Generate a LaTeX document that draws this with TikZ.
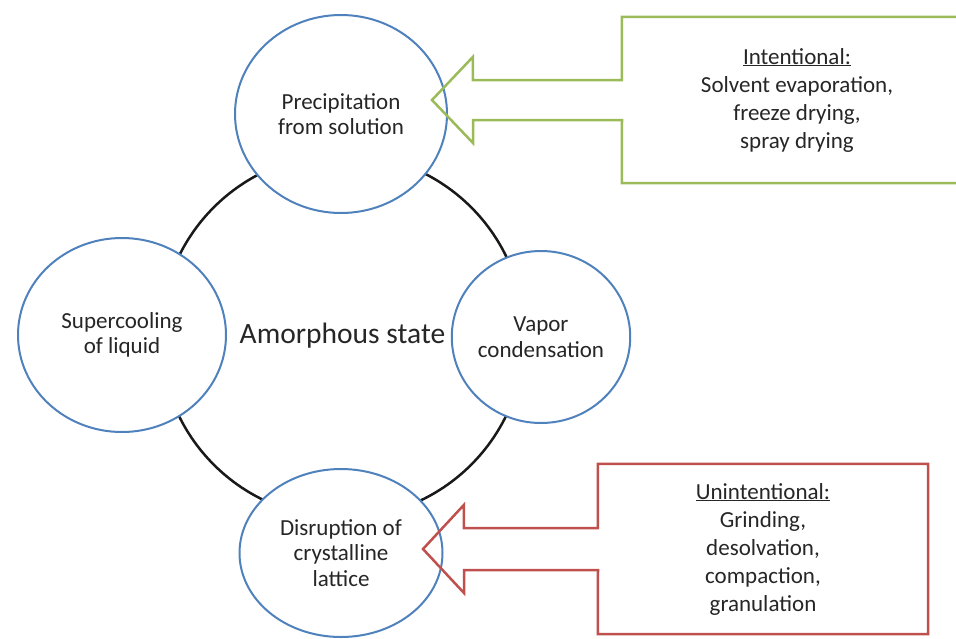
\documentclass[tikz,border=0pt]{standalone}
\usepackage{fontspec}
\setmainfont{Carlito}
\usetikzlibrary{shapes,arrows,positioning,calc}
\definecolor{routeblue}{HTML}{4F81BD}
\definecolor{intentgreen}{HTML}{9BBB59}
\definecolor{unintred}{HTML}{C0504D}

\begin{document}
\begin{tikzpicture}[
    x=1pt, y=-1pt,
    state/.style={circle, draw=black!90, line width=2.5pt, minimum size=364pt, inner sep=0pt, text=black!85, font=\fontsize{29.5}{32}\selectfont},
    route/.style={ellipse, draw=routeblue, line width=2pt, fill=white, inner sep=0pt, align=center, text=black!85, font=\fontsize{23}{25.5}\selectfont},
    callbox/.style={rectangle, inner sep=0pt, align=center, text=black!85, font=\fontsize{23}{28}\selectfont},
    intentline/.style={draw=intentgreen, line width=2.5pt},
    unintline/.style={draw=unintred, line width=2.5pt}]

    \useasboundingbox (0,0) rectangle (956,638);

    % Central state
    \node [state] (amorph) at (342.5,336) {Amorphous state};

    % Routes around the centre
    \node [route, minimum width=212pt, minimum height=198pt] (precip) at (341,114) {Precipitation\\from solution};
    \node [route, minimum width=208pt, minimum height=194pt] (supercool) at (122,335) {Supercooling\\of liquid};
    \node [route, minimum width=168pt, minimum height=172pt] (vapor) at (541,337) {Vapor\\condensation};
    \node [route, minimum width=203pt, minimum height=168pt] (disrupt) at (341,553) {Disruption of\\crystalline\\lattice};

    % Callout for the intentional routes
    \node [callbox, minimum width=350pt, minimum height=166pt] (intent) at (797,100) {\underline{Intentional:}\\
                                                                                  Solvent evaporation,\\
                                                                                  freeze drying,\\
                                                                                  spray drying};
    \coordinate (intenttip) at (432,100);
    \draw [intentline] ($(intent.west)+(0,-20)$) -- ++(-149,0) -- ++(0,-23) -- (intenttip) -- ++(41,43) -- ++(0,-23) -- ++(149,0)
        -- (intent.south west) -- (intent.south east) -- (intent.north east) -- (intent.north west) -- cycle;

    % Callout for the unintentional routes
    \node [callbox, minimum width=330pt, minimum height=170pt] (unint) at (763,549) {\underline{Unintentional:}\\
                                                                                 Grinding,\\
                                                                                 desolvation,\\
                                                                                 compaction,\\
                                                                                 granulation};
    \coordinate (uninttip) at (423,549);
    \draw [unintline] ($(unint.west)+(0,-21)$) -- ++(-134,0) -- ++(0,-23) -- (uninttip) -- ++(41,44) -- ++(0,-23) -- ++(134,0)
        -- (unint.south west) -- (unint.south east) -- (unint.north east) -- (unint.north west) -- cycle;
\end{tikzpicture}
\end{document}
